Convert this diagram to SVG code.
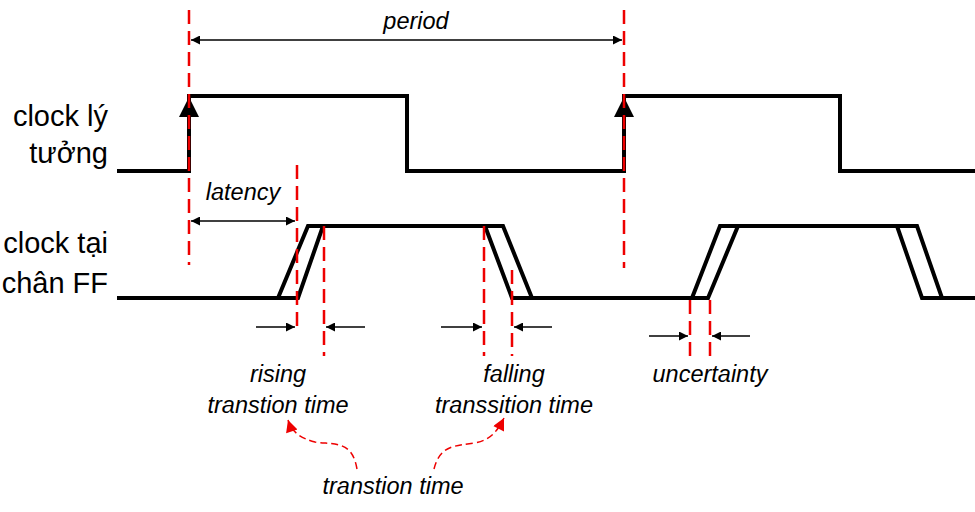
<svg xmlns="http://www.w3.org/2000/svg" width="975" height="512" viewBox="0 0 975 512">
<style>
.sig{fill:none;stroke:#000;stroke-width:4;stroke-linejoin:miter}
.red{stroke:#e00;stroke-width:2.5;stroke-dasharray:14,7;fill:none}
.arr{stroke:#000;stroke-width:1.5;fill:none}
.lbl{font-family:"Liberation Sans",Arial,"Noto Sans",sans-serif;font-size:23.5px;font-style:italic;text-anchor:middle;fill:#000}
.name{font-family:"Liberation Sans",Arial,"Noto Sans",sans-serif;font-size:29px;text-anchor:end;fill:#000}
</style>
<defs>
<marker id="ah" viewBox="0 0 10 10" refX="10" refY="5" markerWidth="13" markerHeight="9" markerUnits="userSpaceOnUse" orient="auto-start-reverse"><path d="M0,0L10,5L0,10z" fill="#000"/></marker>
<marker id="ahr" viewBox="0 0 10 10" refX="10" refY="5" markerWidth="14" markerHeight="12" markerUnits="userSpaceOnUse" orient="auto"><path d="M0,0L10,5L0,10z" fill="#e00"/></marker>
<marker id="big" viewBox="0 0 10 10" refX="10" refY="5" markerWidth="30" markerHeight="20" markerUnits="userSpaceOnUse" orient="auto"><path d="M0,0L10,5L0,10z" fill="#000"/></marker>
</defs>
<g id="ideal-clock">
<path class="sig" d="M117 171H189V96H407V171H624V96H840V171H975"/>
<line x1="189" y1="171" x2="189" y2="97" stroke="#000" stroke-width="4" marker-end="url(#big)"/>
<line x1="624" y1="171" x2="624" y2="97" stroke="#000" stroke-width="4" marker-end="url(#big)"/>
</g>
<g id="ff-clock">
<path class="sig" d="M117 298H278L308 226H485L512 298H692L720 226H897L922 298H975"/>
<path class="sig" d="M117 298H298L323 226H503L532 298H708L738 226H917L942 298H975"/>
</g>
<g id="labels">
<text class="name" x="108" y="126">clock lý</text>
<text class="name" x="108" y="163">tưởng</text>
<text class="name" x="108" y="253">clock tại</text>
<text class="name" x="108" y="293">chân FF</text>
<text class="lbl" x="416" y="29">period</text>
<text class="lbl" x="243" y="200">latency</text>
<text class="lbl" x="278" y="382">rising</text>
<text class="lbl" x="278" y="413">transtion time</text>
<text class="lbl" x="514" y="382">falling</text>
<text class="lbl" x="514" y="413">transsition time</text>
<text class="lbl" x="710" y="382">uncertainty</text>
<text class="lbl" x="393" y="494">transtion time</text>
</g>
<g id="connectors">
<line class="red" x1="189" y1="10" x2="189" y2="265"/>
<line class="red" x1="624" y1="10" x2="624" y2="268"/>
<line class="red" x1="297" y1="165" x2="297" y2="332"/>
<line class="red" x1="324" y1="226" x2="324" y2="356"/>
<line class="red" x1="484" y1="226" x2="484" y2="356"/>
<line class="red" x1="512" y1="270" x2="512" y2="356"/>
<line class="red" x1="690" y1="300" x2="690" y2="356"/>
<line class="red" x1="710" y1="300" x2="710" y2="356"/>
<line class="arr" x1="191" y1="40" x2="622" y2="40" marker-start="url(#ah)" marker-end="url(#ah)"/>
<line class="arr" x1="191" y1="221" x2="295" y2="221" marker-start="url(#ah)" marker-end="url(#ah)"/>
<line class="arr" x1="256" y1="327" x2="295" y2="327" marker-end="url(#ah)"/>
<line class="arr" x1="365" y1="327" x2="326" y2="327" marker-end="url(#ah)"/>
<line class="arr" x1="441" y1="327" x2="482" y2="327" marker-end="url(#ah)"/>
<line class="arr" x1="552" y1="327" x2="514" y2="327" marker-end="url(#ah)"/>
<line class="arr" x1="649" y1="336" x2="688" y2="336" marker-end="url(#ah)"/>
<line class="arr" x1="750" y1="336" x2="712" y2="336" marker-end="url(#ah)"/>
<path d="M357 469C352 440 335 445 315 442C300 438 292 432 288 420" stroke="#e00" stroke-width="1.5" stroke-dasharray="7,4" fill="none" marker-end="url(#ahr)"/>
<path d="M434 469C440 445 455 446 475 443C490 440 497 432 504 418" stroke="#e00" stroke-width="1.5" stroke-dasharray="7,4" fill="none" marker-end="url(#ahr)"/>
</g>
</svg>
